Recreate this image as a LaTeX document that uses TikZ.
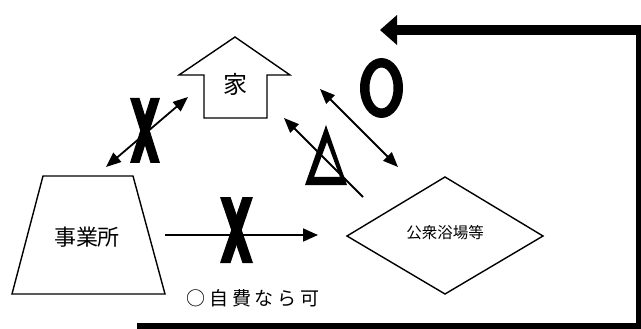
\documentclass[tikz,border=0pt]{standalone}
\usepackage{fontspec}
\newfontfamily\jp{Noto Sans CJK JP}
\usetikzlibrary{arrows.meta}
\tikzset{
  shapeline/.style={draw=black, line width=1.4pt, line join=miter},
  dblarrow/.style={line width=1.8pt, {Triangle[length=15pt,width=12pt]}-{Triangle[length=15pt,width=12pt]}},
  onearrow/.style={line width=1.8pt, {Triangle[length=15pt,width=12pt]}-},
  fwdarrow/.style={line width=1.8pt, -{Triangle[length=15pt,width=13pt]}},
  lbl/.style={inner sep=0pt, font=\jp},
}
\newcommand{\bigx}[5]{% left, right, top, bottom, stroke
  \fill (#1,#3) -- ({#1+#5},#3) -- (#2,#4) -- ({#2-#5},#4) -- cycle;
  \fill ({#2-#5},#3) -- (#2,#3) -- ({#1+#5},#4) -- (#1,#4) -- cycle;
}
\begin{document}
\begin{tikzpicture}[x=1pt,y=-1pt]
\useasboundingbox (0,0) rectangle (641,329);
\clip (0,0) rectangle (641,329);
\fill[white] (0,0) rectangle (641,329);

% house
\draw[shapeline] (235,37) -- (290,75) -- (267,75) -- (267,118) -- (204,118) -- (204,75) -- (179,75) -- cycle;
\node[lbl, font=\jp\fontsize{24pt}{24pt}\selectfont] (ie) at (235,84) {家};

% trapezoid
\draw[shapeline] (43,176) -- (133,176) -- (165,294) -- (12,294) -- cycle;
\node[lbl, font=\jp\fontsize{22pt}{22pt}\selectfont] (jigyo) at (87,237) {事業所};

% diamond
\draw[shapeline] (445,177) -- (543,236) -- (445,294) -- (347,236) -- cycle;
\node[lbl, font=\jp\fontsize{15.5pt}{15.5pt}\selectfont] (koshu) at (445,233) {公衆浴場等};

% note
\node[lbl, font=\jp\fontsize{19pt}{19pt}\selectfont\addfontfeature{LetterSpace=20}] (note) at (253,298) {○自費なら可};

% arrow endpoints
\coordinate (a1) at (106,167);
\coordinate (a2) at (188,97);
\coordinate (b1) at (320,89);
\coordinate (b2) at (398,167);
\coordinate (c1) at (284,118);
\coordinate (c2) at (363,197);
\coordinate (d1) at (165,235);
\coordinate (d2) at (318,235);

% triangle mark
\fill[even odd rule] (326,125) -- (347,185) -- (305,185) -- cycle
                     (327,142) -- (340,177) -- (314,177) -- cycle;

% O mark
\fill[even odd rule] (381.5,88) ellipse [x radius=21.5, y radius=30]
                     (381.5,88) ellipse [x radius=12, y radius=20.5];

% connectors
\draw[dblarrow] (a1) -- (a2);
\draw[dblarrow] (b1) -- (b2);
\draw[onearrow] (c1) -- (c2);
\draw[fwdarrow] (d1) -- (d2);

% X marks
\bigx{130}{160}{98}{163}{9.5}
\bigx{220}{253}{197}{263}{10.5}

% big return arrow
\coordinate (r0) at (137,328);
\coordinate (r1) at (641,328);
\coordinate (r2) at (641,30);
\coordinate (r3) at (396,30);
\draw[line width=10pt, line join=miter] (r0) -- (r1) -- (r2) -- (r3);
\fill (380,30) -- (397,15) -- (397,45) -- cycle;
\end{tikzpicture}
\end{document}
